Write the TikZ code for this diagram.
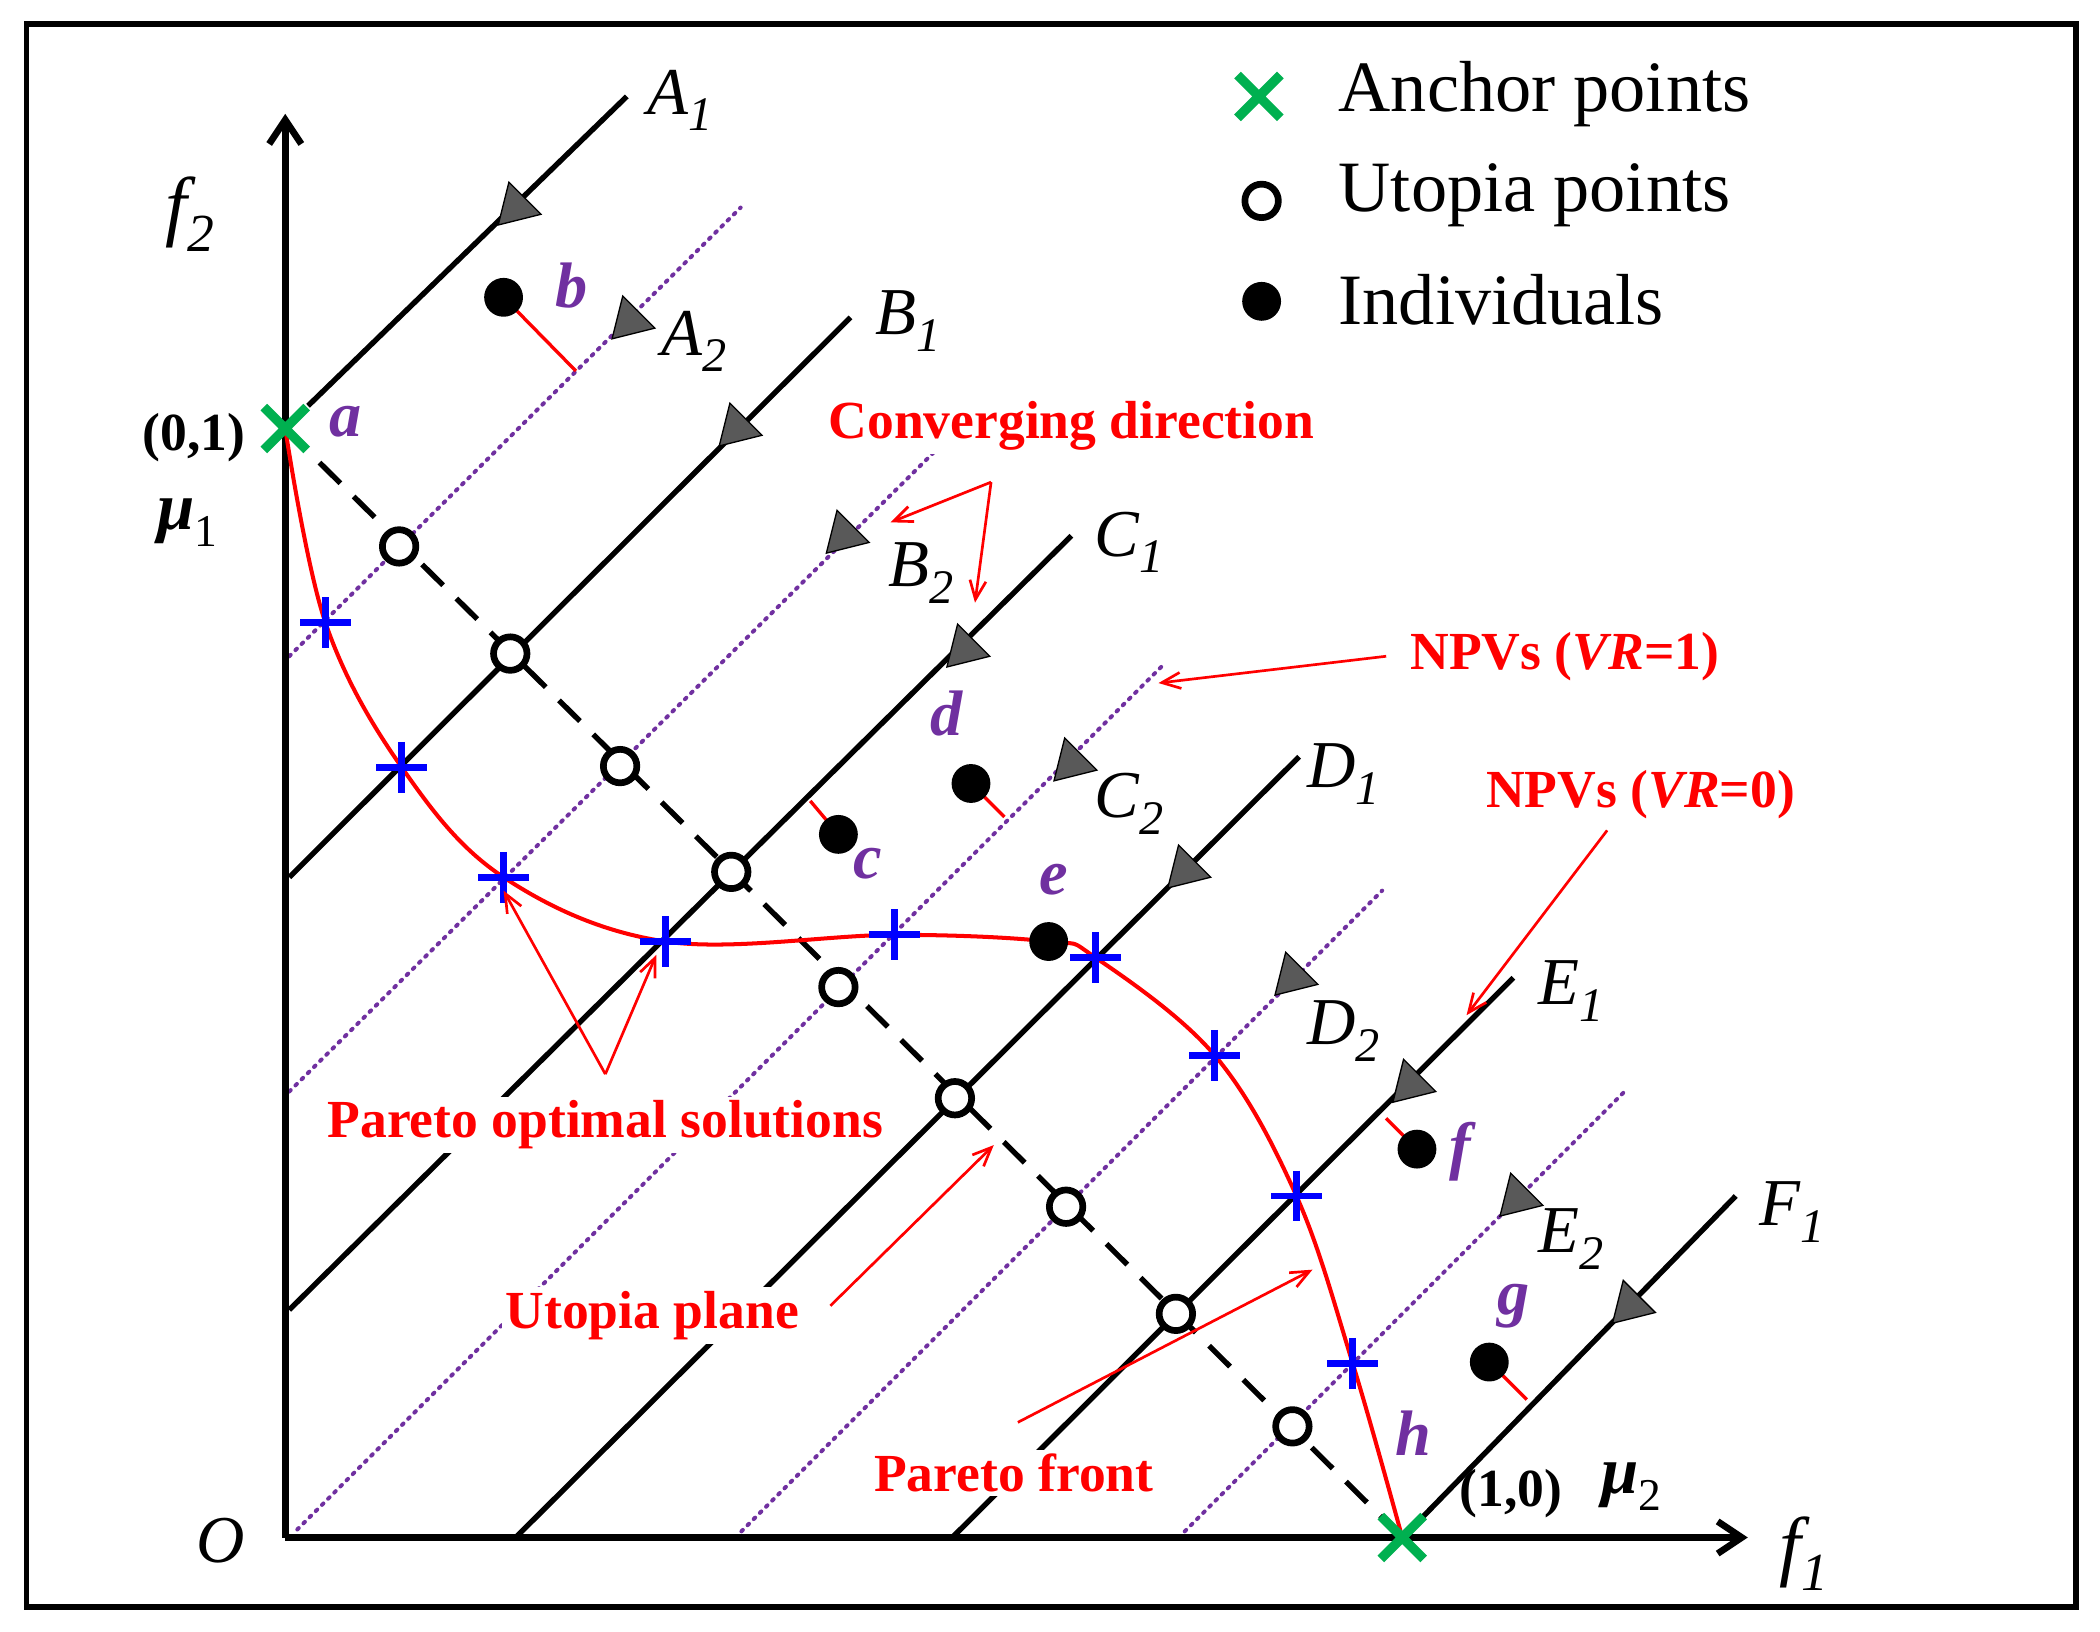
\documentclass[tikz,border=0pt]{standalone}
\usepackage{fontspec}
\setmainfont{Liberation Serif}
\usetikzlibrary{arrows.meta}
\definecolor{vio}{RGB}{112,48,160}
\definecolor{gr}{RGB}{0,176,80}
\begin{document}
\begin{tikzpicture}[x=1pt,y=-1pt,
 sol/.style={line width=4pt},
 dot/.style={vio,line width=3pt,dash pattern=on 1.5pt off 5pt,line cap=round},
 tri/.style={fill=gray!70!black,draw=black,line width=1pt},
 up/.style={circle,draw=black,fill=white,line width=5pt,minimum size=25pt,inner sep=0pt},
 ind/.style={circle,fill=black,minimum size=29pt,inner sep=0pt},
 plus/.style={blue,line width=5pt},
 rl/.style={red,font=\fontsize{40}{42}\selectfont\bfseries,fill=white,inner sep=3pt},
 ra/.style={red,line width=2pt,-{Straight Barb[length=14pt,width=12pt]}},
 lt/.style={vio,font=\fontsize{48}{50}\selectfont\bfseries\itshape},
 ll/.style={font=\fontsize{50}{52}\selectfont\itshape},
 anc/.style={gr,line width=7pt}]
\useasboundingbox (0,0) rectangle (1568,1218);
\draw[line width=4pt] (20,18) rectangle (1550,1200);
% solid lines
\draw[sol] (230,303) -- (468,72);
\draw[sol] (216,655) -- (635,237);
\draw[sol] (216,978) -- (800,400);
\draw[sol] (385,1148) -- (970,565);
\draw[sol] (711,1148) -- (1130,730);
\draw[sol] (1060,1135) -- (1296,893);
% dotted lines
\draw[dot] (216,490) -- (553,155);
\draw[dot] (216,815) -- (700,335);
\draw[dot] (222,1142) -- (870,495);
\draw[dot] (549,1148) -- (1032,665);
\draw[dot] (880,1148) -- (1213,815);
% triangles
\foreach \x/\y in {390/150,555/315,725/480,890/645,1058/805,1222/970,475/235,635/395,805/565,970/725,1138/890}
  \draw[tri] (\x,\y) ++(-18,18) -- ++(8,-32) -- ++(24,24) -- cycle;
% dashed utopia line
\draw[line width=4pt,dash pattern=on 22pt off 14pt] (213,320) -- (1047,1148);
% axes
\draw[line width=5pt,-{Straight Barb[length=18pt,width=24pt]}] (213,1148) -- (213,85);
\draw[line width=5pt,-{Straight Barb[length=18pt,width=24pt]}] (213,1148) -- (1305,1148);
% Pareto front
\draw[red,line width=3pt] plot[smooth,tension=0.6] coordinates {(213,320) (243,465) (300,573) (376,655) (497,703) (668,698) (783,703) (818,715) (907,788) (968,893) (1010,1018) (1047,1148)};
\foreach \x/\y in {243/465,300/573,376/655,497/703,668/698,818/715,907/788,968/893,1010/1018}
  \draw[plus] (\x-19,\y) -- (\x+19,\y) (\x,\y-19) -- (\x,\y+19);
% utopia points
\foreach \x/\y [count=\i] in {298/408,381/488,463/572,546/651,626/737,713/820,796/901,878/981,965/1065}
  \node[up] (u\i) at (\x,\y) {};
% individuals
\draw[red,line width=2.5pt] (376,222) -- (430,277);
\draw[red,line width=2.5pt] (626,623) -- (605,598);
\draw[red,line width=2.5pt] (725,585) -- (750,610);
\draw[red,line width=2.5pt] (1058,858) -- (1035,835);
\draw[red,line width=2.5pt] (1112,1017) -- (1140,1045);
\foreach \x/\y/\n in {376/222/b,626/623/c,725/585/d,783/703/e,1058/858/f,1112/1017/g}
  \node[ind] (i\n) at (\x,\y) {};
% anchors
\draw[anc] (197,304) -- (229,336) (229,304) -- (197,336);
\draw[anc] (1031,1132) -- (1063,1164) (1063,1132) -- (1031,1164);
% letters
\node[lt] at (258,315) {a}; \node[lt] at (427,213) {b}; \node[lt] at (648,645) {c};
\node[lt] at (707,533) {d}; \node[lt] at (787,657) {e}; \node[lt] at (1090,860) {f};
\node[lt] at (1130,975) {g}; \node[lt] at (1055,1070) {h};
% line labels
\foreach \x/\y/\t in {508/75/A,678/240/B,843/405/C,1003/578/D,1173/740/E,1338/905/F}
  \node[ll] at (\x,\y) {\t\raisebox{-0.25em}{\fontsize{36}{38}\selectfont 1}};
\foreach \x/\y/\t in {518/255/A,688/428/B,843/600/C,1003/770/D,1173/925/E}
  \node[ll] at (\x,\y) {\t\raisebox{-0.25em}{\fontsize{36}{38}\selectfont 2}};
\node[ll,font=\fontsize{58}{60}\selectfont\itshape] at (142,160) {f\raisebox{-0.25em}{\fontsize{40}{42}\selectfont 2}};
\node[ll,font=\fontsize{58}{60}\selectfont\itshape] at (1347,1160) {f\raisebox{-0.25em}{\fontsize{40}{42}\selectfont 1}};
\node[ll] at (165,1150) {O};
\node[font=\fontsize{40}{42}\selectfont\bfseries] at (145,327) {(0,1)};
\node[font=\fontsize{40}{42}\selectfont\bfseries] at (1128,1115) {(1,0)};
\node[font=\fontsize{50}{52}\selectfont\bfseries\itshape] at (140,390) {μ\raisebox{-0.25em}{\fontsize{34}{36}\selectfont\upshape\mdseries 1}};
\node[font=\fontsize{50}{52}\selectfont\bfseries\itshape] at (1218,1110) {μ\raisebox{-0.25em}{\fontsize{34}{36}\selectfont\upshape\mdseries 2}};
% legend
\draw[anc] (924,56) -- (956,88) (956,56) -- (924,88);
\node[up] (lu) at (942,150) {};
\node[ind] (li) at (942,225) {};
\node[anchor=west,font=\fontsize{54}{56}\selectfont] at (996,70) {Anchor points};
\node[anchor=west,font=\fontsize{54}{56}\selectfont] at (996,146) {Utopia points};
\node[anchor=west,font=\fontsize{54}{56}\selectfont] at (996,224) {Individuals};
% red labels and arrows
\coordinate (cv) at (740,360);
\draw[ra] (cv) -- (665,390); \draw[ra] (cv) -- (728,450);
\node[rl] at (800,318) {Converging direction};
\draw[ra] (1035,490) -- (865,510);
\node[rl,anchor=west] at (1050,490) {NPVs (\textit{VR}=1)};
\draw[ra] (1200,620) -- (1095,758);
\node[rl] at (1225,593) {NPVs (\textit{VR}=0)};
\coordinate (po) at (452,802);
\draw[ra] (po) -- (376,665); \draw[ra] (po) -- (490,713);
\node[rl] at (452,840) {Pareto optimal solutions};
\draw[ra] (620,975) -- (742,855);
\node[rl] at (487,982) {Utopia plane};
\draw[ra] (760,1062) -- (980,948);
\node[rl] at (757,1100) {Pareto front};
\end{tikzpicture}
\end{document}
